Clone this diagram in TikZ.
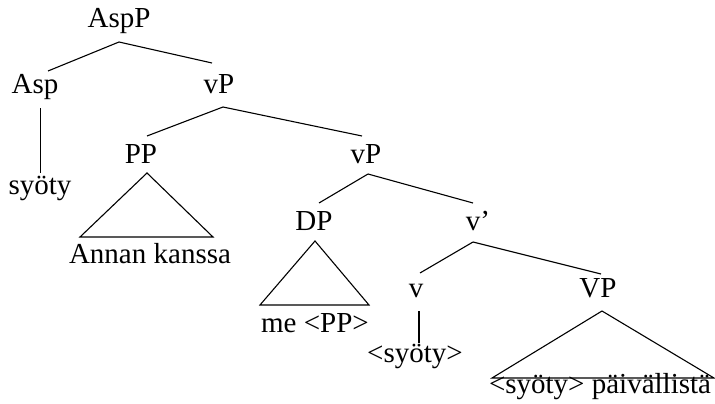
\documentclass[tikz,border=0pt]{standalone}
\usepackage{fontspec}
\setmainfont{Liberation Serif}
\begin{document}
\begin{tikzpicture}[x=1pt,y=1pt,
  lab/.style={anchor=base,inner sep=0pt,font=\fontsize{29}{34}\selectfont},
  edge/.style={line width=1.1pt}]
\useasboundingbox (0,0) rectangle (715,-404);
\node[lab] (AspP) at (119,-28) {AspP};
\node[lab] (Asp) at (35,-93) {Asp};
\node[lab] (vP1) at (219,-93) {vP};
\node[lab] (syoty) at (40,-194) {syöty};
\node[lab] (PP) at (141,-163) {PP};
\node[lab] (vP2) at (366,-163) {vP};
\node[lab] (Annan) at (150,-263) {Annan kanssa};
\node[lab] (DP) at (314,-230) {DP};
\node[lab] (vbar) at (478,-230) {v’};
\node[lab] (me) at (315,-332) {me <PP>};
\node[lab] (v) at (416,-297) {v};
\node[lab] (VP) at (598,-297) {VP};
\node[lab] (syoty2) at (415,-362) {<syöty>};
\node[lab] (pav) at (600,-393) {<syöty> päivällistä};

\draw[edge] ([shift={(0,-14)}]AspP.base) -- ([shift={(13,22)}]Asp.base);
\draw[edge] ([shift={(0,-14)}]AspP.base) -- ([shift={(-7,30)}]vP1.base);
\draw[edge] ([shift={(5.7,-15)}]Asp.base) -- ([shift={(0.7,21)}]syoty.base);
\draw[edge] ([shift={(4,-14)}]vP1.base) -- ([shift={(6,27)}]PP.base);
\draw[edge] ([shift={(4,-14)}]vP1.base) -- ([shift={(-4,27)}]vP2.base);
\draw[edge] ([shift={(2,-11)}]vP2.base) -- ([shift={(5,27)}]DP.base);
\draw[edge] ([shift={(2,-11)}]vP2.base) -- ([shift={(-5,27)}]vbar.base);
\draw[edge] ([shift={(-5,-12)}]vbar.base) -- ([shift={(4,24)}]v.base);
\draw[edge] ([shift={(-5,-12)}]vbar.base) -- ([shift={(3,23)}]VP.base);
\draw[edge] ([shift={(3,-14)}]v.base) -- ([shift={(4,19)}]syoty2.base);
\draw[edge] ([shift={(6,-10)}]PP.base) -- ([shift={(-70,26)}]Annan.base) -- ([shift={(63,26)}]Annan.base) -- cycle;
\draw[edge] ([shift={(1,-11)}]DP.base) -- ([shift={(-55,27)}]me.base) -- ([shift={(54,27)}]me.base) -- cycle;
\draw[edge] ([shift={(4,-14)}]VP.base) -- ([shift={(-108,15)}]pav.base) -- ([shift={(114,15)}]pav.base) -- cycle;
\end{tikzpicture}
\end{document}
